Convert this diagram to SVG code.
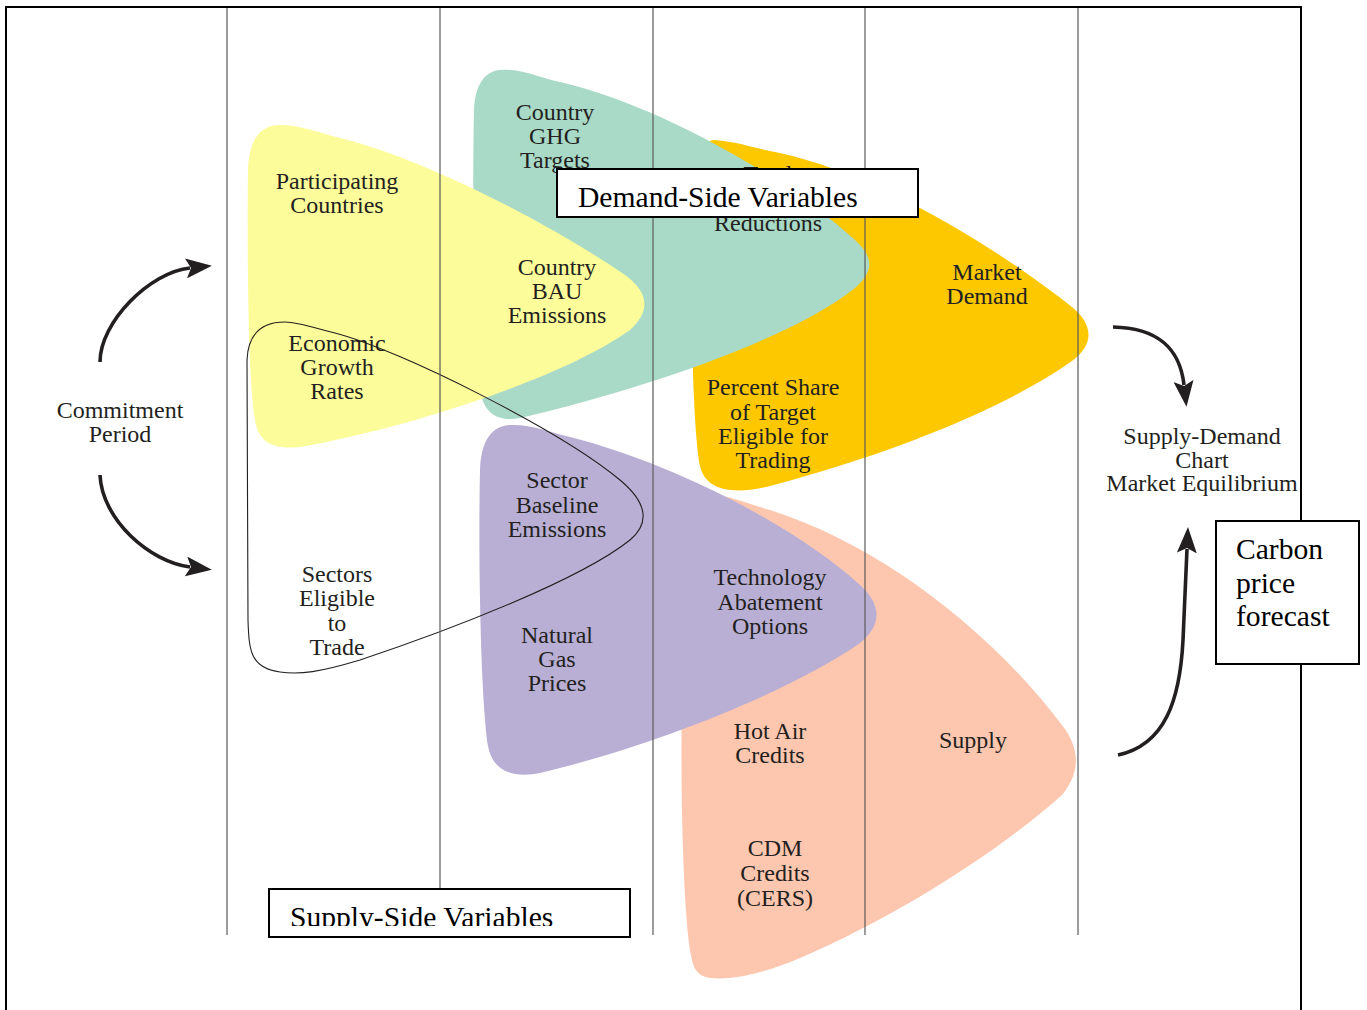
<svg xmlns="http://www.w3.org/2000/svg" width="1367" height="1010" viewBox="0 0 1367 1010">
<defs>
<style>
.lbl{font-family:"Liberation Serif","Times New Roman",serif;font-size:24px;fill:#231F20;text-anchor:middle}
.big{font-family:"Liberation Serif","Times New Roman",serif;font-size:29.6px;fill:#000}
.vline{stroke:#5a5a5a;stroke-width:1.2;fill:none}
.frame{stroke:#000;stroke-width:2;fill:none}
.box{fill:#fff;stroke:#000;stroke-width:2}
.arrow{fill:none;stroke:#231F20;stroke-width:3.6;marker-end:url(#ah)}
</style>
<marker id="ah" viewBox="0 0 26 20" refX="4" refY="10" markerWidth="26" markerHeight="20" markerUnits="userSpaceOnUse" orient="auto">
<path d="M0,0 L26,10 L0,20 L5,10 Z" fill="#231F20"/>
</marker>
<clipPath id="supclip"><rect x="270" y="890" width="359" height="36"/></clipPath>
</defs>
<rect width="1367" height="1010" fill="#fff"/>

<g id="shapes">
<path id="demand-market" d="M715,140 C740,142 760,150 780,153 C880,175 1000,250 1072,307 C1094,325 1094,345 1072,361 C1000,412 880,457 770,486 C730,496 705,489 700,466 C693,430 690,300 692,200 C693,160 700,140 715,140 Z" fill="#FDC800"/>
<path id="country-targets" d="M500,70 C520,68 540,78 560,82 C660,105 790,180 855,240 C875,258 873,272 855,288 C790,340 640,390 520,418 C495,423 483,410 480,390 C474,330 472,200 474,110 C475,85 485,71 500,70 Z" fill="#A9DAC7"/>
<path id="participating" d="M280,125 C300,125 320,133 340,138 C430,160 560,230 625,275 C650,293 650,312 630,330 C560,380 400,430 300,447 C270,450 258,440 255,420 C248,380 247,250 248,170 C249,140 260,125 280,125 Z" fill="#FDFC9A"/>
<path id="supply" d="M710,495 C730,495 750,505 770,510 C880,545 990,630 1062,725 C1080,748 1081,772 1062,795 C1000,850 900,915 800,958 C760,975 730,980 710,978 C697,976 693,968 691,955 C684,920 680,800 682,700 C683,560 690,495 710,495 Z" fill="#FDC6AE"/>
<path id="sector" d="M510,425 C530,424 550,432 570,437 C680,465 800,530 860,585 C883,605 881,627 860,643 C790,692 650,747 540,773 C510,779 492,769 488,746 C481,700 478,560 480,470 C481,440 492,426 510,425 Z" fill="#B9AFD5"/>
<path id="sectors-loop" d="M285,322 C300,322 320,330 335,333 C400,350 560,430 620,480 C650,505 648,525 630,540 C580,580 450,630 360,660 C320,672 300,675 280,672 C250,668 249,650 248,620 L247,360 C248,335 260,322 285,322 Z" fill="none" stroke="#231F20" stroke-width="1.1"/>
</g>

<g id="grid">
<line class="vline" x1="227" y1="8" x2="227" y2="935"/>
<line class="vline" x1="440" y1="8" x2="440" y2="935"/>
<line class="vline" x1="653" y1="8" x2="653" y2="935"/>
<line class="vline" x1="865" y1="8" x2="865" y2="935"/>
<line class="vline" x1="1078" y1="8" x2="1078" y2="935"/>
<path class="frame" d="M6,1010 L6,7 L1301,7 L1301,1010"/>
</g>

<g id="labels">
<text class="lbl"><tspan x="337" y="189">Participating</tspan><tspan x="337" y="213">Countries</tspan></text>
<text class="lbl"><tspan x="555" y="120">Country</tspan><tspan x="555" y="144">GHG</tspan><tspan x="555" y="168">Targets</tspan></text>
<text class="lbl"><tspan x="557" y="275">Country</tspan><tspan x="557" y="299">BAU</tspan><tspan x="557" y="323">Emissions</tspan></text>
<text class="lbl"><tspan x="768" y="182">Total</tspan><tspan x="768" y="231">Reductions</tspan></text>
<text class="lbl"><tspan x="987" y="280">Market</tspan><tspan x="987" y="304">Demand</tspan></text>
<text class="lbl"><tspan x="773" y="395">Percent Share</tspan><tspan x="773" y="420">of Target</tspan><tspan x="773" y="444">Eligible for</tspan><tspan x="773" y="468">Trading</tspan></text>
<text class="lbl"><tspan x="337" y="351">Economic</tspan><tspan x="337" y="375">Growth</tspan><tspan x="337" y="399">Rates</tspan></text>
<text class="lbl"><tspan x="337" y="582">Sectors</tspan><tspan x="337" y="606">Eligible</tspan><tspan x="337" y="631">to</tspan><tspan x="337" y="655">Trade</tspan></text>
<text class="lbl"><tspan x="557" y="488">Sector</tspan><tspan x="557" y="513">Baseline</tspan><tspan x="557" y="537">Emissions</tspan></text>
<text class="lbl"><tspan x="557" y="643">Natural</tspan><tspan x="557" y="667">Gas</tspan><tspan x="557" y="691">Prices</tspan></text>
<text class="lbl"><tspan x="770" y="585">Technology</tspan><tspan x="770" y="610">Abatement</tspan><tspan x="770" y="634">Options</tspan></text>
<text class="lbl"><tspan x="770" y="739">Hot Air</tspan><tspan x="770" y="763">Credits</tspan></text>
<text class="lbl" x="973" y="748">Supply</text>
<text class="lbl"><tspan x="775" y="856">CDM</tspan><tspan x="775" y="881">Credits</tspan><tspan x="775" y="906">(CERS)</tspan></text>
<text class="lbl"><tspan x="120" y="418">Commitment</tspan><tspan x="120" y="442">Period</tspan></text>
<text class="lbl"><tspan x="1202" y="444">Supply-Demand</tspan><tspan x="1202" y="468">Chart</tspan><tspan x="1202" y="491">Market Equilibrium</tspan></text>
</g>

<g id="connectors">
<path class="arrow" d="M100,362 C100,322 150,272 190,268"/>
<path class="arrow" d="M100,475 C102,520 150,562 190,567"/>
<path class="arrow" d="M1113,327 C1160,328 1180,350 1184,385"/>
<path class="arrow" d="M1118,755 C1165,745 1180,700 1183,640 L1187,549"/>
</g>

<g id="demand-side-box">
<rect class="box" x="557" y="169" width="361" height="48"/>
<text class="big" x="578" y="207">Demand-Side Variables</text>
</g>

<g id="supply-side-box">
<rect class="box" x="269" y="889" width="361" height="48"/>
<text class="big" x="290" y="927" clip-path="url(#supclip)">Supply-Side Variables</text>
</g>

<g id="carbon-box">
<rect class="box" x="1216" y="521" width="143" height="143"/>
<text class="big"><tspan x="1236" y="559">Carbon</tspan><tspan x="1236" y="593">price</tspan><tspan x="1236" y="626">forecast</tspan></text>
</g>
</svg>
